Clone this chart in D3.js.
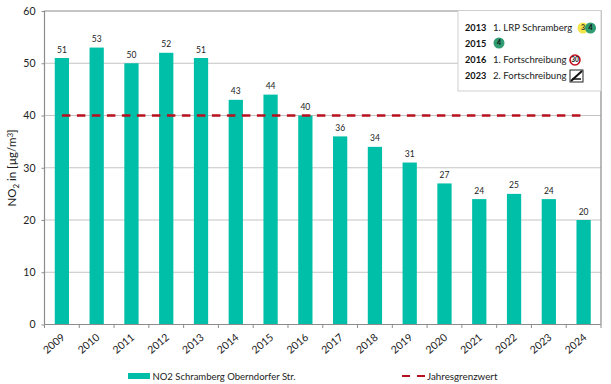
<!DOCTYPE html>
<html>
<head>
<meta charset="utf-8">
<script src="https://cdn.jsdelivr.net/npm/d3@7"></script>
<style>
  html, body { margin: 0; padding: 0; background: #fff; }
  svg { display: block; font-family: Lato, "Open Sans", sans-serif; }
  .ax path, .ax line { stroke: #8c8c8c; }
</style>
</head>
<body>
<svg id="chart" width="611" height="384"></svg>
<script>
var years = ['2009', '2010', '2011', '2012', '2013', '2014', '2015', '2016',
  '2017', '2018', '2019', '2020', '2021', '2022', '2023', '2024']
var no2 = [51, 53, 50, 52, 51, 43, 44, 40, 36, 34, 31, 27, 24, 25, 24, 20]
var limit = [40, 40, 40, 40, 40, 40, 40, 40, 40, 40, 40, 40, 40, 40, 40, 40]
var yTicks = [0, 10, 20, 30, 40, 50, 60]
var noteYears = ['2013', '2015', '2016', '2023']
var noteTexts = ['1. LRP Schramberg', '', '1. Fortschreibung', '2. Fortschreibung']

var margin = {top: 11, bottom: 59.5, left: 44.5, right: 10}
var width = 611
var height = 384
var innerw = width - margin.left - margin.right
var innerh = height - margin.top - margin.bottom

var svg = d3.select('#chart')
var chart = svg.append('g')
  .attr('transform', `translate(${margin.left},${margin.top})`)

var mapx = d3.scaleBand().domain(years).range([0, innerw]).paddingInner(0.59).paddingOuter(0.295)
var mapy = d3.scaleLinear().domain([0, 60]).range([innerh, 0])

// grid
chart.selectAll('.grid').data(yTicks.slice(1, 6)).enter().append('line')
  .attr('x1', 0).attr('x2', innerw)
  .attr('y1', d => mapy(d)).attr('y2', d => mapy(d))
  .attr('stroke', '#c4c4c4').attr('stroke-width', 1)

// frame
chart.append('path')
  .attr('d', `M0,${innerh}V0H${innerw}V${innerh}`)
  .attr('fill', 'none').attr('stroke', '#8c8c8c').attr('stroke-width', 1.2)

// bars
chart.selectAll('.bar').data(years).enter().append('rect')
  .attr('x', d => mapx(d))
  .attr('width', mapx.bandwidth())
  .attr('y', (d, i) => mapy(no2[i]))
  .attr('height', (d, i) => innerh - mapy(no2[i]))
  .attr('fill', '#00bfa8')

chart.selectAll('.val').data(years).enter().append('text')
  .attr('x', d => mapx(d) + mapx.bandwidth() / 2)
  .attr('y', (d, i) => mapy(no2[i]) - 5.5)
  .attr('text-anchor', 'middle')
  .attr('font-size', 8.5)
  .attr('fill', '#222')
  .text((d, i) => no2[i])

// limit line
var gen = d3.line()
  .x((d, i) => mapx(years[i]) + mapx.bandwidth() / 2)
  .y(d => mapy(d))
chart.append('path')
  .attr('d', gen(limit))
  .attr('fill', 'none')
  .attr('stroke', '#b8101f')
  .attr('stroke-width', 2.4)
  .attr('stroke-dasharray', '8.5,6.5')

// axis y
var yAxis = d3.axisLeft(mapy).tickValues(yTicks).tickSize(3).tickPadding(6)
var ay = chart.append('g').classed('ax', true).call(yAxis)
ay.select('.domain').remove()
ay.selectAll('text').attr('font-size', 10.5).attr('fill', '#222').attr('font-family', 'Lato')

// axis x, ticks sit between the bars
var edges = d3.range(years.length + 1)
var ax = chart.append('g').classed('ax', true)
  .attr('transform', `translate(0,${innerh})`)
ax.append('line').attr('x1', 0).attr('x2', innerw)
ax.selectAll('.tick').data(edges).enter().append('line')
  .attr('x1', d => d * mapx.step()).attr('x2', d => d * mapx.step())
  .attr('y1', 0).attr('y2', 3.5)
ax.selectAll('.lab').data(years).enter().append('text')
  .attr('transform', d => `translate(${mapx(d) + mapx.bandwidth() / 2 - 8},19) rotate(-40)`)
  .attr('text-anchor', 'middle')
  .attr('dy', '0.35em')
  .attr('font-size', 10.5)
  .attr('fill', '#222')
  .text(d => d)

// y title
svg.append('text')
  .attr('transform', 'translate(16,168) rotate(-90)')
  .attr('text-anchor', 'middle')
  .attr('font-size', 11.5)
  .attr('fill', '#222')
  .html('NO<tspan font-size="8" dy="3">2</tspan><tspan dy="-3"> in [µg/m</tspan><tspan font-size="8" dy="-3">3</tspan><tspan dy="3">]</tspan>')

// note box
var note = svg.append('g').attr('transform', 'translate(458,10.5)')
note.append('rect').attr('width', 143).attr('height', 80.5)
  .attr('fill', '#fff').attr('stroke', '#cfcfcf').attr('stroke-width', 1)
var rows = note.selectAll('.row').data(noteYears).enter().append('g')
  .attr('transform', (d, i) => `translate(7,${17.5 + i * 16})`)
rows.append('text').attr('font-size', 9.2).attr('font-weight', 700).attr('fill', '#111')
  .attr('dy', '0.35em').text(d => d)
rows.append('text').attr('x', 28).attr('font-size', 9.6).attr('fill', '#222')
  .attr('dy', '0.35em').text((d, i) => noteTexts[i])

// small badges
function badge (g, x, y, col, label, txt) {
  g.append('circle').attr('cx', x).attr('cy', y).attr('r', 5.5).attr('fill', col)
  g.append('text').attr('x', x).attr('y', y).attr('dy', '0.3em').attr('text-anchor', 'middle')
    .attr('font-size', 7).attr('font-weight', 700).attr('fill', txt).text(label)
}
var r0 = d3.select(rows.nodes()[0])
badge(r0, 118, 0, '#f2e64a', '3', '#333')
badge(r0, 125.5, 0, '#2f9c72', '4', '#111')
badge(d3.select(rows.nodes()[1]), 34, -1, '#2f9c72', '4', '#111')
var r2 = d3.select(rows.nodes()[2])
r2.append('circle').attr('cx', 110).attr('cy', 0).attr('r', 5).attr('fill', '#fff')
  .attr('stroke', '#c00d1e').attr('stroke-width', 1.6)
r2.append('text').attr('x', 110).attr('dy', '0.32em').attr('text-anchor', 'middle')
  .attr('font-size', 6.5).attr('font-weight', 700).attr('fill', '#111').text('30')
var r3 = d3.select(rows.nodes()[3])
r3.append('rect').attr('x', 105).attr('y', -6).attr('width', 13).attr('height', 12)
  .attr('fill', '#fff').attr('stroke', '#222').attr('stroke-width', 1)
r3.append('line').attr('x1', 106).attr('y1', 5).attr('x2', 117).attr('y2', -5)
  .attr('stroke', '#111').attr('stroke-width', 2)
r3.append('line').attr('x1', 107).attr('y1', 3).attr('x2', 116).attr('y2', 3)
  .attr('stroke', '#111').attr('stroke-width', 1.5)

// legend
var leg = svg.append('g').attr('transform', 'translate(0,376)')
leg.append('rect').attr('x', 128).attr('y', -3).attr('width', 22).attr('height', 6).attr('fill', '#00bfa8')
leg.append('text').attr('x', 152.5).attr('y', 3.5).attr('font-size', 9.5).attr('fill', '#222')
  .text('NO2 Schramberg Oberndorfer Str.')
leg.append('line').attr('x1', 402).attr('x2', 425).attr('y1', 0).attr('y2', 0)
  .attr('stroke', '#b8101f').attr('stroke-width', 2.2).attr('stroke-dasharray', '8,7')
leg.append('text').attr('x', 427).attr('y', 3.5).attr('font-size', 9.8).attr('fill', '#222')
  .text('Jahresgrenzwert')
</script>
</body>
</html>
